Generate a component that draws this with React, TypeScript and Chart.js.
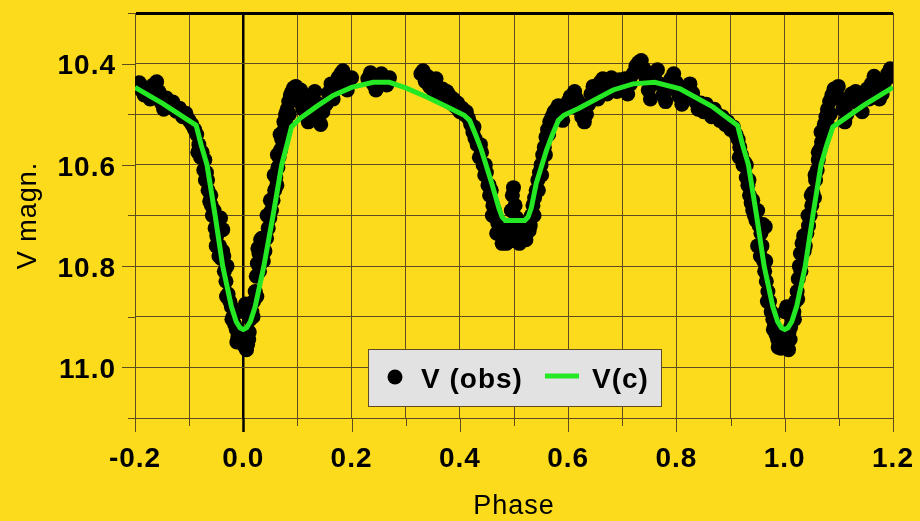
import { useEffect, useRef } from "react";
import { Chart, registerables } from "chart.js";

Chart.register(...registerables);

// Observed V magnitudes (phase, magnitude)
const obsPhase = [
  -0.198, -0.192, -0.188, -0.183, -0.178, -0.172, -0.166, -0.16, -0.156, -0.151, -0.147, -0.142, -0.136, -0.13, -0.124,
  -0.118, -0.112, -0.106, -0.1, -0.095, -0.09, -0.086, -0.082, -0.079, -0.076, -0.073, -0.07, -0.068, -0.065, -0.062,
  -0.06, -0.057, -0.054, -0.052, -0.049, -0.046, -0.042, -0.038, -0.044, -0.041, -0.038, -0.035, -0.032, -0.03, -0.028,
  -0.025, -0.022, -0.019, -0.016, -0.013, -0.01, -0.007, -0.004, -0.001, 0.0, 0.002, 0.004, 0.005, 0.008, 0.011,
  0.013, 0.016, 0.019, 0.022, 0.024, 0.026, 0.027, 0.029, 0.032, 0.034, 0.037, 0.04, 0.043, 0.046, 0.049,
  0.052, 0.055, 0.058, 0.06, 0.062, 0.064, 0.066, 0.069, 0.071, 0.073, 0.075, 0.078, 0.081, 0.084, 0.087,
  0.09, 0.093, 0.097, 0.1, 0.103, 0.106, 0.11, 0.113, 0.117, 0.12, 0.124, 0.128, 0.132, 0.136, 0.14,
  0.143, 0.147, 0.153, 0.157, 0.162, 0.166, 0.17, 0.175, 0.18, 0.184, 0.188, 0.192, 0.196, 0.2, 0.23,
  0.235, 0.24, 0.245, 0.25, 0.255, 0.26, 0.265, 0.27, 0.328, 0.332, 0.336, 0.34, 0.344, 0.348, 0.352,
  0.356, 0.36, 0.364, 0.368, 0.372, 0.376, 0.38, 0.384, 0.388, 0.392, 0.396, 0.4, 0.404, 0.408, 0.412,
  0.416, 0.42, 0.424, 0.428, 0.432, 0.436, 0.44, 0.443, 0.446, 0.449, 0.452, 0.455, 0.458, 0.461, 0.464,
  0.467, 0.47, 0.473, 0.476, 0.48, 0.484, 0.488, 0.492, 0.495, 0.497, 0.499, 0.502, 0.505, 0.508, 0.512,
  0.516, 0.52, 0.524, 0.528, 0.532, 0.535, 0.538, 0.541, 0.544, 0.547, 0.55, 0.553, 0.556, 0.559, 0.562,
  0.566, 0.57, 0.574, 0.578, 0.582, 0.586, 0.59, 0.595, 0.6, 0.604, 0.608, 0.612, 0.616, 0.62, 0.625,
  0.63, 0.634, 0.638, 0.642, 0.646, 0.65, 0.655, 0.659, 0.664, 0.668, 0.672, 0.676, 0.68, 0.685, 0.69,
  0.695, 0.7, 0.705, 0.71, 0.715, 0.72, 0.725, 0.73, 0.735, 0.74, 0.744, 0.748, 0.752, 0.756, 0.76,
  0.765, 0.77, 0.775, 0.78, 0.785, 0.79, 0.795, 0.8, 0.805, 0.81, 0.815, 0.82, 0.825, 0.83, 0.835,
  0.84, 0.845, 0.85, 0.855, 0.86, 0.865, 0.87, 0.875, 0.88, 0.885, 0.89, 0.895, 0.9, 0.905, 0.91,
  0.914, 0.917, 0.92, 0.923, 0.926, 0.929, 0.932, 0.935, 0.938, 0.941, 0.944, 0.947, 0.95, 0.953, 0.956,
  0.96, 0.964, 0.958, 0.961, 0.963, 0.966, 0.969, 0.972, 0.975, 0.978, 0.981, 0.984, 0.987, 0.99, 0.993,
  0.996, 0.999, 1.0, 1.002, 1.004, 1.005, 1.008, 1.011, 1.014, 1.017, 1.02, 1.023, 1.025, 1.027, 1.029,
  1.032, 1.035, 1.038, 1.041, 1.044, 1.047, 1.05, 1.052, 1.055, 1.057, 1.06, 1.062, 1.065, 1.068, 1.07,
  1.073, 1.076, 1.079, 1.083, 1.087, 1.091, 1.095, 1.099, 1.103, 1.107, 1.111, 1.115, 1.119, 1.123, 1.127,
  1.131, 1.135, 1.139, 1.143, 1.147, 1.152, 1.156, 1.16, 1.165, 1.17, 1.175, 1.18, 1.185, 1.19, 1.195,
  1.199,
  -0.084, -0.071, -0.066, -0.059, -0.05, -0.045, -0.036, -0.031, -0.021, -0.012, 0.006, 0.01, 0.018, 0.025, 0.03,
  0.036, 0.044, 0.05, 0.057, 0.063, 0.068, 0.079, 0.085,
  0.916, 0.929, 0.934, 0.941, 0.95, 0.955, 0.965, 0.968, 0.979, 0.988, 1.007, 1.01, 1.018, 1.024, 1.03,
  1.036, 1.043, 1.049, 1.056, 1.062, 1.067, 1.078, 1.084,
  0.426, 0.438, 0.447, 0.454, 0.46, 0.468, 0.478, 0.486, 0.5, 0.51, 0.522, 0.53, 0.537, 0.545, 0.551,
  0.558, 0.564,
];
const obsMag = [
  10.445, 10.438, 10.452, 10.462, 10.448, 10.47, 10.442, 10.436, 10.455, 10.478, 10.49, 10.468, 10.482, 10.476, 10.494,
  10.488, 10.505, 10.498, 10.512, 10.52, 10.53, 10.54, 10.56, 10.585, 10.575, 10.61, 10.63, 10.615, 10.65, 10.672,
  10.66, 10.7, 10.69, 10.725, 10.74, 10.712, 10.705, 10.728, 10.76, 10.785, 10.77, 10.81, 10.83, 10.8, 10.855,
  10.87, 10.88, 10.9, 10.915, 10.925, 10.94, 10.93, 10.95, 10.945, 10.89, 10.958, 10.875, 10.94, 10.955, 10.93,
  10.905, 10.89, 10.87, 10.85, 10.82, 10.795, 10.765, 10.775, 10.748, 10.745, 10.79, 10.77, 10.745, 10.725, 10.705,
  10.69, 10.67, 10.65, 10.625, 10.64, 10.605, 10.585, 10.57, 10.55, 10.535, 10.515, 10.5, 10.49, 10.475, 10.462,
  10.455, 10.448, 10.445, 10.46, 10.475, 10.452, 10.49, 10.468, 10.5, 10.515, 10.485, 10.462, 10.455, 10.478, 10.505,
  10.52, 10.495, 10.48, 10.458, 10.44, 10.47, 10.448, 10.428, 10.42, 10.414, 10.435, 10.452, 10.43, 10.428, 10.43,
  10.418, 10.44, 10.452, 10.425, 10.42, 10.435, 10.442, 10.428, 10.42, 10.414, 10.435, 10.425, 10.445, 10.438, 10.455,
  10.43, 10.448, 10.462, 10.45, 10.47, 10.455, 10.462, 10.478, 10.47, 10.485, 10.478, 10.495, 10.488, 10.5, 10.495,
  10.508, 10.52, 10.535, 10.548, 10.56, 10.585, 10.575, 10.6, 10.62, 10.615, 10.64, 10.66, 10.65, 10.68, 10.69,
  10.705, 10.715, 10.728, 10.738, 10.745, 10.735, 10.748, 10.725, 10.69, 10.66, 10.645, 10.68, 10.705, 10.73, 10.742,
  10.725, 10.738, 10.72, 10.73, 10.7, 10.68, 10.665, 10.65, 10.63, 10.615, 10.6, 10.58, 10.565, 10.545, 10.53,
  10.515, 10.505, 10.495, 10.49, 10.483, 10.5, 10.512, 10.49, 10.475, 10.465, 10.48, 10.455, 10.47, 10.49, 10.505,
  10.515, 10.5, 10.48, 10.46, 10.445, 10.455, 10.47, 10.437, 10.43, 10.445, 10.46, 10.45, 10.428, 10.44, 10.455,
  10.432, 10.445, 10.43, 10.46, 10.44, 10.42, 10.405, 10.398, 10.394, 10.41, 10.43, 10.452, 10.47, 10.44, 10.42,
  10.412, 10.44, 10.462, 10.475, 10.45, 10.43, 10.42, 10.438, 10.465, 10.48, 10.47, 10.45, 10.44, 10.458, 10.475,
  10.49, 10.478, 10.495, 10.48, 10.492, 10.505, 10.49, 10.5, 10.512, 10.505, 10.52, 10.515, 10.53, 10.525, 10.54,
  10.55, 10.565, 10.58, 10.6, 10.595, 10.625, 10.64, 10.66, 10.675, 10.69, 10.7, 10.71, 10.69, 10.72, 10.735,
  10.718, 10.722, 10.76, 10.79, 10.81, 10.83, 10.85, 10.87, 10.89, 10.905, 10.92, 10.935, 10.945, 10.955, 10.962,
  10.95, 10.94, 10.89, 10.958, 10.88, 10.945, 10.93, 10.92, 10.905, 10.89, 10.87, 10.85, 10.825, 10.8, 10.775,
  10.755, 10.74, 10.76, 10.735, 10.72, 10.7, 10.68, 10.655, 10.665, 10.63, 10.61, 10.59, 10.57, 10.555, 10.535,
  10.52, 10.505, 10.49, 10.475, 10.462, 10.45, 10.458, 10.445, 10.47, 10.49, 10.515, 10.5, 10.47, 10.46, 10.475,
  10.455, 10.465, 10.48, 10.495, 10.47, 10.45, 10.47, 10.44, 10.425, 10.45, 10.47, 10.46, 10.435, 10.42, 10.41,
  10.425,
  10.575, 10.59, 10.63, 10.68, 10.76, 10.78, 10.78, 10.86, 10.905, 10.95, 10.965, 10.945, 10.9, 10.86, 10.81,
  10.76, 10.7, 10.67, 10.62, 10.58, 10.54, 10.52, 10.5,
  10.585, 10.6, 10.63, 10.67, 10.76, 10.78, 10.79, 10.87, 10.925, 10.96, 10.965, 10.945, 10.905, 10.865, 10.81,
  10.77, 10.7, 10.66, 10.62, 10.575, 10.535, 10.515, 10.5,
  10.525, 10.56, 10.6, 10.64, 10.7, 10.735, 10.755, 10.755, 10.75, 10.755, 10.748, 10.72, 10.7, 10.65, 10.62,
  10.58, 10.54,
];

// Computed light curve V(c)
const fitPhase = [
  -0.2, -0.15, -0.087, -0.078, -0.067, -0.052, -0.038, -0.022, -0.013, -0.006, 0.0, 0.006, 0.013, 0.022, 0.038,
  0.055, 0.071, 0.082, 0.089, 0.105, 0.135, 0.166, 0.2, 0.24, 0.27, 0.3, 0.339, 0.38, 0.408, 0.418,
  0.43, 0.44, 0.459, 0.472, 0.478, 0.484, 0.52, 0.526, 0.532, 0.541, 0.56, 0.57, 0.582, 0.592, 0.62,
  0.683, 0.72, 0.76, 0.807, 0.868, 0.913, 0.922, 0.933, 0.948, 0.962, 0.978, 0.987, 0.994, 1.0, 1.006,
  1.013, 1.022, 1.038, 1.052, 1.067, 1.078, 1.089, 1.145, 1.2,
];
const fitMag = [
  10.447, 10.478, 10.522, 10.56, 10.6, 10.7, 10.8, 10.88, 10.91, 10.922, 10.925, 10.922, 10.91, 10.88, 10.8,
  10.7, 10.6, 10.555, 10.525, 10.508, 10.485, 10.463, 10.447, 10.437, 10.437, 10.448, 10.466, 10.487, 10.502, 10.512,
  10.543, 10.571, 10.637, 10.685, 10.703, 10.71, 10.71, 10.703, 10.685, 10.637, 10.571, 10.543, 10.512, 10.502, 10.488,
  10.452, 10.44, 10.437, 10.45, 10.486, 10.522, 10.56, 10.6, 10.7, 10.8, 10.88, 10.91, 10.922, 10.925, 10.922,
  10.91, 10.88, 10.8, 10.7, 10.6, 10.56, 10.525, 10.483, 10.447,
];

const xLabelled = [-0.2, 0.0, 0.2, 0.4, 0.6, 0.8, 1.0, 1.2];
const yLabelled = [10.4, 10.6, 10.8, 11.0];
const seriesNames = ["V (obs)", "V(c)"];
const xTitle = "Phase";
const yTitle = "V magn.";

const BG = "#FCDB1C";
const GRID = "#5E4B22";
const GREEN = "#24E824";
const FONT = "'Liberation Sans', Arial, sans-serif";

const near = (v: number, list: number[]) => list.some((l) => Math.abs(l - v) < 1e-6);
const fmt = (v: number) => (Math.abs(v) < 1e-9 ? 0 : v).toFixed(1);

export default function App() {
  const canvasRef = useRef<HTMLCanvasElement | null>(null);

  useEffect(() => {
    document.body.style.margin = "0";
    document.body.style.background = BG;
    const canvas = canvasRef.current;
    if (!canvas) return;

    const decor = {
      id: "decor",
      beforeDraw(chart: any) {
        const ctx = chart.ctx;
        ctx.save();
        ctx.fillStyle = BG;
        ctx.fillRect(0, 0, chart.width, chart.height);
        ctx.restore();
        (ctx as any).letterSpacing = "1px";
      },
      afterDraw(chart: any) {
        const { ctx, chartArea: a } = chart;
        const xs = chart.scales.x;
        const ys = chart.scales.y;
        ctx.save();
        // tick marks
        xs.ticks.forEach((t: any) => {
          const px = xs.getPixelForValue(t.value);
          const zero = Math.abs(t.value) < 1e-6;
          ctx.strokeStyle = zero ? "#000" : GRID;
          ctx.lineWidth = zero ? 2.5 : 1;
          ctx.beginPath();
          ctx.moveTo(Math.round(px) + 0.5, a.bottom);
          ctx.lineTo(Math.round(px) + 0.5, a.bottom + (near(t.value, xLabelled) ? 14 : 8));
          ctx.stroke();
        });
        ys.ticks.forEach((t: any) => {
          const py = ys.getPixelForValue(t.value);
          ctx.strokeStyle = GRID;
          ctx.lineWidth = 1;
          ctx.beginPath();
          ctx.moveTo(a.left - (near(t.value, yLabelled) ? 13 : 7), Math.round(py) + 0.5);
          ctx.lineTo(a.left, Math.round(py) + 0.5);
          ctx.stroke();
        });
        // legend
        const lx = a.left + 233;
        const ly = a.top + 336;
        const lw = 293;
        const lh = 57;
        ctx.fillStyle = "#E2E2E2";
        ctx.fillRect(lx, ly, lw, lh);
        ctx.strokeStyle = GRID;
        ctx.lineWidth = 1;
        ctx.strokeRect(lx + 0.5, ly + 0.5, lw, lh);
        ctx.fillStyle = "#000";
        ctx.beginPath();
        ctx.arc(lx + 27, ly + 28, 7.5, 0, Math.PI * 2);
        ctx.fill();
        ctx.font = `bold 28px ${FONT}`;
        ctx.textBaseline = "alphabetic";
        ctx.textAlign = "left";
        ctx.letterSpacing = "1px";
        ctx.fillText(seriesNames[0], lx + 53, ly + 39);
        ctx.strokeStyle = GREEN;
        ctx.lineWidth = 5;
        ctx.beginPath();
        ctx.moveTo(lx + 177, ly + 27);
        ctx.lineTo(lx + 211, ly + 27);
        ctx.stroke();
        ctx.fillStyle = "#000";
        ctx.fillText(seriesNames[1], lx + 224, ly + 39);
        ctx.restore();
      },
    };

    const chart = new Chart(canvas, {
      type: "scatter",
      data: {
        datasets: [
          {
            type: "line",
            label: seriesNames[1],
            data: fitPhase.map((p, i) => ({ x: p, y: fitMag[i] })),
            borderColor: GREEN,
            borderWidth: 5,
            pointRadius: 0,
            tension: 0,
            fill: false,
            order: 0,
          } as any,
          {
            type: "scatter",
            label: seriesNames[0],
            data: obsPhase.map((p, i) => ({ x: p, y: obsMag[i] })),
            backgroundColor: "#000",
            borderWidth: 0,
            pointRadius: 7.5,
            order: 1,
          },
        ],
      },
      options: {
        animation: false,
        responsive: false,
        devicePixelRatio: 1,
        layout: { padding: { left: 0, right: 27, top: 13, bottom: 0 } },
        plugins: { legend: { display: false }, tooltip: { enabled: false } },
        scales: {
          x: {
            type: "linear",
            min: -0.2,
            max: 1.2,
            afterFit: (s: any) => {
              s.height = 103;
              s.paddingLeft = 0;
              s.paddingRight = 0;
            },
            ticks: {
              stepSize: 0.1,
              autoSkip: false,
              maxRotation: 0,
              padding: 24,
              color: "#000",
              font: { family: FONT, size: 28, weight: "bold" },
              callback: (v: any) => (near(Number(v), xLabelled) ? fmt(Number(v)) : ""),
            },
            grid: {
              drawTicks: false,
              color: (c: any) => (c.tick && Math.abs(c.tick.value) < 1e-6 ? "#000" : GRID),
              lineWidth: (c: any) => (c.tick && Math.abs(c.tick.value) < 1e-6 ? 2.5 : 1),
            },
            border: { display: true, color: GRID, width: 1 },
            title: {
              display: true,
              text: xTitle,
              color: "#000",
              font: { family: FONT, size: 27, weight: "normal" },
              padding: { top: 0, bottom: -2 },
            },
          },
          y: {
            type: "linear",
            reverse: true,
            min: 10.3,
            max: 11.1,
            afterFit: (s: any) => {
              s.width = 135;
              s.paddingTop = 0;
              s.paddingBottom = 0;
            },
            ticks: {
              stepSize: 0.1,
              autoSkip: false,
              padding: 19,
              labelOffset: 3,
              color: "#000",
              font: { family: FONT, size: 28, weight: "bold" },
              callback: (v: any) => (near(Number(v), yLabelled) ? fmt(Number(v)) : ""),
            },
            grid: {
              drawTicks: false,
              color: (c: any) => (c.tick && Math.abs(c.tick.value - 10.3) < 1e-6 ? "#000" : GRID),
              lineWidth: (c: any) => (c.tick && Math.abs(c.tick.value - 10.3) < 1e-6 ? 3 : 1),
            },
            border: { display: true, color: GRID, width: 1 },
            title: {
              display: true,
              text: yTitle,
              color: "#000",
              font: { family: FONT, size: 27, weight: "normal" },
              padding: { top: 12, bottom: 0 },
            },
          },
        },
      },
      plugins: [decor],
    } as any);

    return () => chart.destroy();
  }, []);

  return (
    <div style={{ width: 920, height: 521, background: BG }}>
      <canvas ref={canvasRef} width={920} height={521} style={{ display: "block" }} />
    </div>
  );
}
